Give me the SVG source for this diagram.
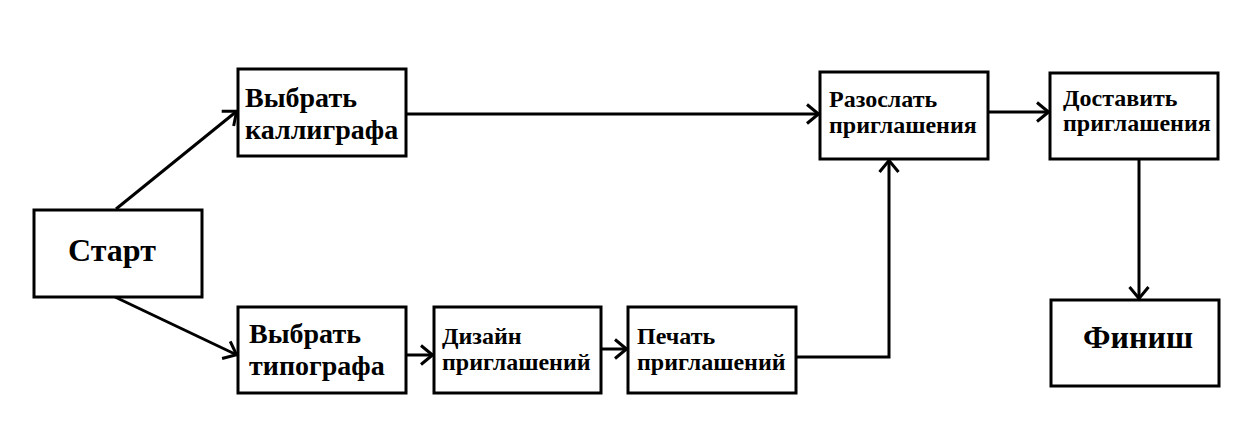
<svg xmlns="http://www.w3.org/2000/svg" width="1237" height="448" viewBox="0 0 1237 448">
<style>
.box{fill:#fff;stroke:#000;stroke-width:3}
.t{font-family:"Liberation Serif","Times New Roman",serif;font-weight:bold;fill:#000}
.big{font-size:32px}
.mid{font-size:28px}
.sm{font-size:24px}
.c{fill:none;stroke:#000;stroke-width:3}
</style>
<defs>
<marker id="ar" viewBox="0 0 14 22" refX="13" refY="11" markerWidth="14" markerHeight="22" markerUnits="userSpaceOnUse" orient="auto">
<path d="M1,1.5 L12.5,11 L1,20.5" fill="none" stroke="#000" stroke-width="3"/>
</marker>
</defs>
<rect width="1237" height="448" fill="#fff"/>
<g id="connectors">
<line class="c" x1="116" y1="209" x2="237" y2="111" marker-end="url(#ar)"/>
<line class="c" x1="115" y1="297" x2="237" y2="355" marker-end="url(#ar)"/>
<line class="c" x1="406" y1="114" x2="819" y2="114" marker-end="url(#ar)"/>
<line class="c" x1="406" y1="355" x2="433" y2="355" marker-end="url(#ar)"/>
<line class="c" x1="601" y1="349" x2="627" y2="349" marker-end="url(#ar)"/>
<polyline class="c" points="796,357 889,357 889,160" marker-end="url(#ar)"/>
<line class="c" x1="988" y1="112" x2="1049" y2="112" marker-end="url(#ar)"/>
<line class="c" x1="1139" y1="159" x2="1139" y2="299" marker-end="url(#ar)"/>
</g>
<g id="start">
<rect class="box" x="34" y="210" width="168" height="87"/>
<text class="t big" x="112" y="261" text-anchor="middle">Старт</text>
</g>
<g id="calligrapher">
<rect class="box" x="238" y="69" width="168" height="87"/>
<text class="t mid" x="245" y="107">Выбрать</text>
<text class="t mid" x="245" y="139">каллиграфа</text>
</g>
<g id="typographer">
<rect class="box" x="238" y="307" width="168" height="86"/>
<text class="t mid" x="249" y="343">Выбрать</text>
<text class="t mid" x="249" y="375">типографа</text>
</g>
<g id="design">
<rect class="box" x="434" y="307" width="167" height="86"/>
<text class="t sm" x="442" y="344">Дизайн</text>
<text class="t sm" x="442" y="370">приглашений</text>
</g>
<g id="print">
<rect class="box" x="628" y="307" width="168" height="86"/>
<text class="t sm" x="637" y="344">Печать</text>
<text class="t sm" x="637" y="370">приглашений</text>
</g>
<g id="send">
<rect class="box" x="820" y="72" width="168" height="87"/>
<text class="t sm" x="829" y="107">Разослать</text>
<text class="t sm" x="829" y="133">приглашения</text>
</g>
<g id="deliver">
<rect class="box" x="1050" y="73" width="168" height="86"/>
<text class="t sm" x="1063" y="106">Доставить</text>
<text class="t sm" x="1063" y="131">приглашения</text>
</g>
<g id="finish">
<rect class="box" x="1051" y="300" width="168" height="86"/>
<text class="t big" x="1138" y="348" text-anchor="middle">Финиш</text>
</g>
</svg>
